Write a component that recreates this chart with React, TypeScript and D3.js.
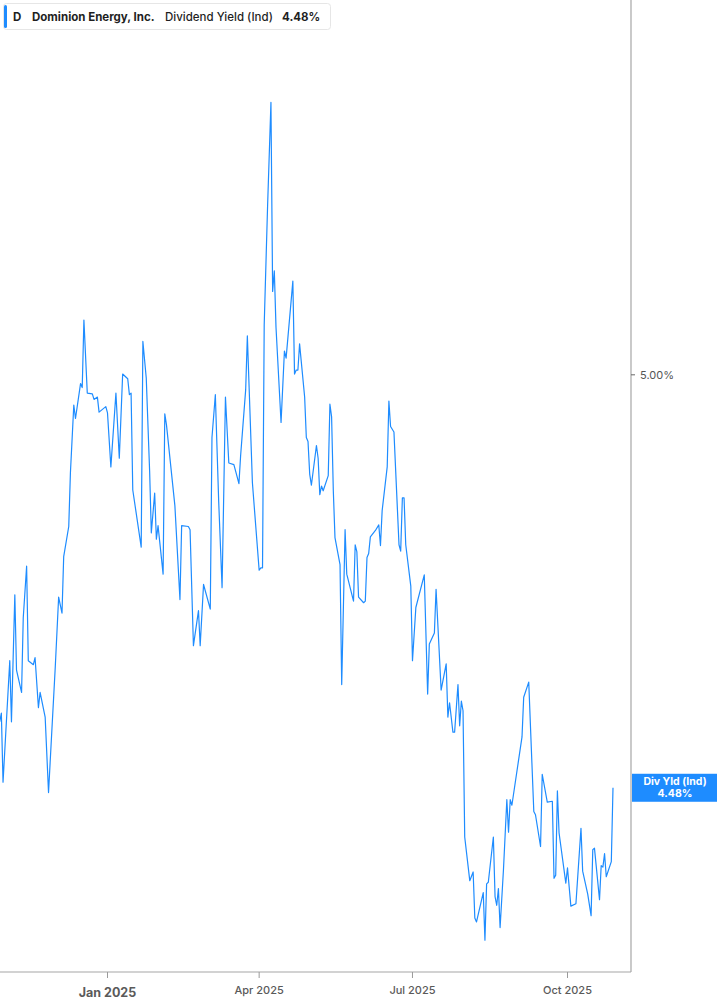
import React, { useEffect, useRef } from "react";
import * as d3 from "d3";

// Daily dividend yield (%) at its turning points
const dates = [
  "2024-10-29", "2024-10-30", "2024-10-31", "2024-11-04", "2024-11-05", "2024-11-07", "2024-11-08",
  "2024-11-11", "2024-11-12", "2024-11-14", "2024-11-15", "2024-11-18", "2024-11-19", "2024-11-21",
  "2024-11-22", "2024-11-25", "2024-11-27", "2024-12-01", "2024-12-03", "2024-12-05", "2024-12-06",
  "2024-12-09", "2024-12-10", "2024-12-12", "2024-12-13", "2024-12-16", "2024-12-17", "2024-12-18",
  "2024-12-20", "2024-12-23", "2024-12-24", "2024-12-26", "2024-12-27", "2024-12-31", "2025-01-01",
  "2025-01-03", "2025-01-06", "2025-01-08", "2025-01-10", "2025-01-13", "2025-01-14", "2025-01-15",
  "2025-01-16", "2025-01-21", "2025-01-22", "2025-01-24", "2025-01-26", "2025-01-27", "2025-01-29",
  "2025-01-30", "2025-01-31", "2025-02-03", "2025-02-04", "2025-02-05", "2025-02-10", "2025-02-13",
  "2025-02-14", "2025-02-18", "2025-02-19", "2025-02-21", "2025-02-24", "2025-02-25", "2025-02-27",
  "2025-03-03", "2025-03-04", "2025-03-06", "2025-03-08", "2025-03-10", "2025-03-12", "2025-03-14",
  "2025-03-17", "2025-03-18", "2025-03-20", "2025-03-21", "2025-03-24", "2025-03-25", "2025-03-28",
  "2025-04-01", "2025-04-02", "2025-04-03", "2025-04-04", "2025-04-06", "2025-04-08", "2025-04-09",
  "2025-04-10", "2025-04-11", "2025-04-14", "2025-04-16", "2025-04-17", "2025-04-21", "2025-04-22",
  "2025-04-23", "2025-04-24", "2025-04-25", "2025-04-28", "2025-04-29", "2025-04-30", "2025-05-01",
  "2025-05-02", "2025-05-05", "2025-05-06", "2025-05-07", "2025-05-08", "2025-05-09", "2025-05-12",
  "2025-05-13", "2025-05-14", "2025-05-15", "2025-05-16", "2025-05-19", "2025-05-20", "2025-05-22",
  "2025-05-23", "2025-05-27", "2025-05-28", "2025-05-29", "2025-05-30", "2025-06-02", "2025-06-03",
  "2025-06-04", "2025-06-05", "2025-06-06", "2025-06-09", "2025-06-11", "2025-06-12", "2025-06-13",
  "2025-06-16", "2025-06-17", "2025-06-18", "2025-06-20", "2025-06-23", "2025-06-24", "2025-06-25",
  "2025-06-26", "2025-06-27", "2025-06-30", "2025-07-01", "2025-07-03", "2025-07-08", "2025-07-10",
  "2025-07-11", "2025-07-14", "2025-07-15", "2025-07-18", "2025-07-21", "2025-07-22", "2025-07-23",
  "2025-07-25", "2025-07-26", "2025-07-28", "2025-07-29", "2025-07-30", "2025-07-31", "2025-08-01",
  "2025-08-04", "2025-08-06", "2025-08-07", "2025-08-08", "2025-08-12", "2025-08-13", "2025-08-14",
  "2025-08-15", "2025-08-18", "2025-08-19", "2025-08-20", "2025-08-21", "2025-08-22", "2025-08-24",
  "2025-08-26", "2025-08-27", "2025-08-28", "2025-08-29", "2025-09-04", "2025-09-05", "2025-09-08",
  "2025-09-11", "2025-09-12", "2025-09-15", "2025-09-16", "2025-09-19", "2025-09-22", "2025-09-23",
  "2025-09-24", "2025-09-25", "2025-09-26", "2025-09-30", "2025-10-01", "2025-10-03", "2025-10-06",
  "2025-10-09", "2025-10-10", "2025-10-13", "2025-10-15", "2025-10-16", "2025-10-17", "2025-10-20",
  "2025-10-21", "2025-10-22", "2025-10-23", "2025-10-24", "2025-10-27", "2025-10-28",
];

const yields = [
  4.563, 4.574, 4.487, 4.64, 4.563, 4.723, 4.628,
  4.6, 4.694, 4.759, 4.64, 4.635, 4.644, 4.581,
  4.6, 4.569, 4.474, 4.632, 4.72, 4.7, 4.771,
  4.809, 4.877, 4.962, 4.945, 4.989, 4.984, 5.069,
  4.977, 4.976, 4.969, 4.972, 4.953, 4.96, 4.952,
  4.884, 4.977, 4.895, 5.001, 4.995, 4.975, 4.977,
  4.855, 4.783, 5.042, 4.996, 4.879, 4.801, 4.851,
  4.793, 4.81, 4.749, 4.951, 4.937, 4.835, 4.717,
  4.81, 4.809, 4.805, 4.659, 4.703, 4.659, 4.736,
  4.705, 4.921, 4.975, 4.84, 4.732, 4.972, 4.889,
  4.887, 4.879, 4.863, 4.898, 4.981, 5.049, 4.864,
  4.754, 4.757, 4.757, 5.063, 5.212, 5.343, 5.105,
  5.131, 5.06, 4.94, 5.03, 5.021, 5.118, 5.001,
  5.006, 5.006, 5.039, 4.972, 4.921, 4.916, 4.875,
  4.861, 4.911, 4.895, 4.849, 4.86, 4.854, 4.873,
  4.963, 4.947, 4.855, 4.795, 4.761, 4.61, 4.805,
  4.749, 4.715, 4.786, 4.777, 4.72, 4.713, 4.715,
  4.77, 4.775, 4.796, 4.804, 4.811, 4.785, 4.829,
  4.884, 4.967, 4.935, 4.928, 4.786, 4.778, 4.845,
  4.845, 4.786, 4.734, 4.64, 4.707, 4.748, 4.598,
  4.661, 4.675, 4.73, 4.603, 4.636, 4.569, 4.587,
  4.55, 4.55, 4.61, 4.558, 4.589, 4.577, 4.418,
  4.363, 4.374, 4.316, 4.311, 4.348, 4.288, 4.359,
  4.361, 4.418, 4.343, 4.332, 4.353, 4.304, 4.377,
  4.465, 4.424, 4.465, 4.458, 4.544, 4.594, 4.613,
  4.45, 4.446, 4.406, 4.497, 4.462, 4.463, 4.366,
  4.37, 4.476, 4.423, 4.36, 4.379, 4.331, 4.334,
  4.429, 4.375, 4.346, 4.319, 4.402, 4.404, 4.339,
  4.382, 4.38, 4.397, 4.368, 4.387, 4.48,
];

const xTicks = ["2025-01-01", "2025-04-01", "2025-07-01", "2025-10-01"];
const xTickLabels = ["Jan 2025", "Apr 2025", "Jul 2025", "Oct 2025"];
const yTicks = [5.0];

const ticker = "D";
const company = "Dominion Energy, Inc.";
const metric = "Dividend Yield (Ind)";
const badgeTitle = "Div Yld (Ind)";
const latest = 4.48;

const BLUE = "#1e8cff";
const FONT = "Inter, Roboto, 'Noto Sans', sans-serif";

const App: React.FC = () => {
  const svgRef = useRef<SVGSVGElement>(null);

  useEffect(() => {
    if (!svgRef.current) return;
    const svg = d3.select(svgRef.current);
    svg.selectAll("*").remove();

    const width = 717;
    const height = 1005;
    const plotRight = 631;
    const plotBottom = 972;

    const parse = d3.timeParse("%Y-%m-%d");
    const data = dates.map((d, i) => ({ date: parse(d) as Date, value: yields[i] }));

    // Calibrated so that Jan 2025 and Oct 2025 fall where the reference places them
    const x = d3
      .scaleTime()
      .domain([parse("2025-01-01") as Date, parse("2025-10-01") as Date])
      .range([107.5, 567.5]);

    const y = d3.scaleLinear().domain([4.248, 5.472]).range([plotBottom, 0]);

    svg.attr("width", width).attr("height", height);

    // Plot frame (right and bottom)
    svg
      .append("line")
      .attr("x1", plotRight)
      .attr("x2", plotRight)
      .attr("y1", 0)
      .attr("y2", plotBottom)
      .attr("stroke", "#a6a6a6")
      .attr("stroke-width", 1.2);
    svg
      .append("line")
      .attr("x1", 0)
      .attr("x2", plotRight)
      .attr("y1", plotBottom)
      .attr("y2", plotBottom)
      .attr("stroke", "#a6a6a6")
      .attr("stroke-width", 1.2);

    // Bottom axis ticks
    const xg = svg.append("g");
    xTicks.forEach((t, i) => {
      const px = x(parse(t) as Date);
      xg.append("line")
        .attr("x1", px)
        .attr("x2", px)
        .attr("y1", plotBottom)
        .attr("y2", plotBottom + 6)
        .attr("stroke", "#9a9a9a");
      xg.append("text")
        .attr("x", px)
        .attr("y", i === 0 ? 997 : 994)
        .attr("text-anchor", "middle")
        .style("font-family", FONT)
        .style("font-size", i === 0 ? "12.5px" : "11px")
        .style("font-weight", i === 0 ? 700 : 500)
        .style("fill", "#5a5a5a")
        .text(xTickLabels[i]);
    });

    // Right axis ticks
    yTicks.forEach((t) => {
      svg
        .append("line")
        .attr("x1", plotRight)
        .attr("x2", plotRight + 4)
        .attr("y1", y(t))
        .attr("y2", y(t))
        .attr("stroke", "#666");
      svg
        .append("text")
        .attr("x", plotRight + 9)
        .attr("y", y(t) + 4)
        .style("font-family", FONT)
        .style("font-size", "11px")
        .style("fill", "#555")
        .text(`${t.toFixed(2)}%`);
    });

    // Yield line
    const line = d3
      .line<{ date: Date; value: number }>()
      .x((d) => x(d.date))
      .y((d) => y(d.value));
    svg
      .append("path")
      .datum(data)
      .attr("d", line)
      .attr("fill", "none")
      .attr("stroke", BLUE)
      .attr("stroke-width", 1.2)
      .attr("stroke-linejoin", "round");

    // Latest-value badge
    const by = y(latest);
    svg
      .append("rect")
      .attr("x", plotRight + 1)
      .attr("y", by - 14)
      .attr("width", width - plotRight - 1)
      .attr("height", 28)
      .attr("fill", BLUE);
    svg
      .append("text")
      .attr("x", (plotRight + width) / 2 + 1)
      .attr("y", by - 3)
      .attr("text-anchor", "middle")
      .style("font-family", FONT)
      .style("font-size", "10.5px")
      .style("font-weight", 700)
      .style("fill", "#fff")
      .text(badgeTitle);
    svg
      .append("text")
      .attr("x", (plotRight + width) / 2 + 1)
      .attr("y", by + 9)
      .attr("text-anchor", "middle")
      .style("font-family", FONT)
      .style("font-size", "10.5px")
      .style("font-weight", 700)
      .style("fill", "#fff")
      .text(`${latest.toFixed(2)}%`);

    // Legend box
    const lg = svg.append("g");
    lg.append("rect")
      .attr("x", 3.5)
      .attr("y", 3.5)
      .attr("width", 327)
      .attr("height", 26)
      .attr("rx", 3)
      .attr("fill", "#fff")
      .attr("stroke", "#e6e6e6");
    lg.append("rect")
      .attr("x", 4)
      .attr("y", 5)
      .attr("width", 3)
      .attr("height", 23)
      .attr("rx", 1.5)
      .attr("fill", BLUE);
    const legendText = lg
      .append("text")
      .attr("x", 13)
      .attr("y", 21)
      .style("font-family", FONT)
      .style("font-size", "11.5px")
      .style("fill", "#1f1f1f");
    legendText.append("tspan").style("font-weight", 700).text(ticker);
    legendText.append("tspan").attr("x", 32).style("font-weight", 700).text(company);
    legendText.append("tspan").attr("x", 165).style("font-weight", 500).text(metric);
    legendText
      .append("tspan")
      .attr("x", 282)
      .style("font-weight", 700)
      .text(`${latest.toFixed(2)}%`);
  }, []);

  return (
    <div style={{ position: "absolute", left: 0, top: 0, width: 717, height: 1005, background: "#fff" }}>
      <svg ref={svgRef} style={{ display: "block" }}></svg>
    </div>
  );
};

export default App;
